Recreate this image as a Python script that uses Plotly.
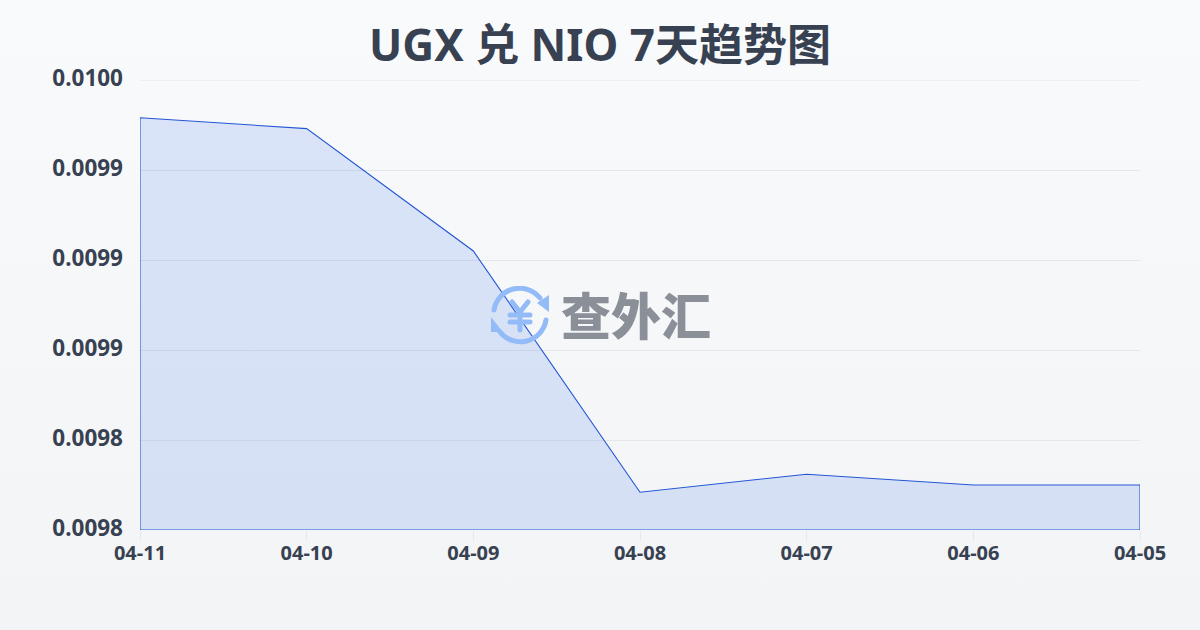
import base64
import plotly.graph_objects as go

title_text = "UGX 兑 NIO 7天趋势图"
dates = ["04-11", "04-10", "04-09", "04-08", "04-07", "04-06", "04-05"]
rates = [0.009979, 0.009973, 0.009905, 0.009771, 0.009781, 0.009775, 0.009775]
baseline = 0.00975
y_ticks = [0.00975, 0.0098, 0.00985, 0.0099, 0.00995, 0.0100]
y_labels = ["0.0098", "0.0098", "0.0099", "0.0099", "0.0099", "0.0100"]
watermark = "查外汇"

FONT = "'Noto Sans', 'Noto Sans CJK SC', sans-serif"
INK = "#374151"


def svg_uri(svg):
    return "data:image/svg+xml;base64," + base64.b64encode(svg.encode()).decode()


bg_svg = (
    '<svg xmlns="http://www.w3.org/2000/svg" width="1200" height="630" preserveAspectRatio="none">'
    '<defs><linearGradient id="g" x1="0" y1="0" x2="0" y2="1">'
    '<stop offset="0" stop-color="#f9fafc"/><stop offset="1" stop-color="#f3f4f6"/>'
    '</linearGradient></defs><rect width="1200" height="630" fill="url(#g)"/></svg>'
)
logo_svg = (
    '<svg xmlns="http://www.w3.org/2000/svg" width="60" height="60" viewBox="0 0 60 60">'
    '<g fill="none" stroke="#93bbf8" stroke-width="5" stroke-linecap="round">'
    '<path d="M4 24 A26 26 0 0 1 50 12"/><path d="M56 34 A26 26 0 0 1 10 46"/>'
    '<path d="M22 16 L30 26 L38 16 M20 29 H40 M20 36 H40 M30 27 V44"/></g>'
    '<path d="M59 9 V26 L47 17 Z M1 31 V46 H13 Z" fill="#93bbf8"/></svg>'
)

fig = go.Figure()
fig.add_trace(go.Scatter(
    x=dates + dates[::-1] + dates[:1],
    y=rates + [baseline] * len(dates) + rates[:1],
    mode="lines",
    fill="toself",
    fillcolor="rgba(37,99,235,0.14)",
    line=dict(color="#2456d6", width=1.1),
    hoverinfo="skip",
    showlegend=False,
))

fig.update_layout(
    width=1200,
    height=630,
    autosize=False,
    margin=dict(l=140, r=60, t=80, b=100),
    paper_bgcolor="#f6f7f9",
    plot_bgcolor="rgba(0,0,0,0)",
    font=dict(family=FONT, color=INK),
    title=dict(
        text=f"<b>{title_text}</b>",
        x=0.5,
        xanchor="center",
        y=0.927,
        yanchor="middle",
        font=dict(size=44, color=INK, family=FONT),
    ),
    xaxis=dict(
        type="category",
        categoryorder="array",
        categoryarray=dates,
        range=[0, len(dates) - 1],
        showgrid=False,
        zeroline=False,
        showline=False,
        ticks="outside",
        ticklen=10,
        tickcolor="#e5e7eb",
        tickwidth=1,
        ticklabelstandoff=-5,
        tickfont=dict(size=20, color=INK, family="'Noto Sans'", weight=700),
    ),
    yaxis=dict(
        range=[baseline, 0.0100],
        tickmode="array",
        tickvals=y_ticks,
        ticktext=y_labels,
        showgrid=True,
        gridcolor="#e5e7eb",
        gridwidth=1,
        zeroline=False,
        showline=False,
        ticks="",
        ticklabelstandoff=16,
        ticklabelshift=-2,
        tickfont=dict(size=22.5, color=INK, family="'Noto Sans'", weight=700),
    ),
    shapes=[
        dict(type="line", xref="paper", yref="y", x0=0, x1=1, y0=y_ticks[-1], y1=y_ticks[-1],
             line=dict(color="#e5e7eb", width=1), layer="below"),
    ],
    images=[
        dict(source=svg_uri(bg_svg), xref="paper", yref="paper", x=-140 / 1000, y=1 + 80 / 450,
             sizex=1.2, sizey=1.4, xanchor="left", yanchor="top", sizing="stretch", layer="below"),
        dict(source=svg_uri(logo_svg), xref="paper", yref="paper", x=350 / 1000, y=(530 - 286) / 450,
             sizex=60 / 1000, sizey=60 / 450, xanchor="left", yanchor="top", sizing="stretch", layer="above"),
    ],
    annotations=[
        dict(text=watermark, xref="paper", yref="paper", x=(636 - 140) / 1000,
             y=(530 - 313) / 450, xanchor="center", yanchor="middle", showarrow=False,
             font=dict(size=50, color="#8a8f98", family="'Noto Sans CJK SC'", weight=900)),
    ],
)

fig.write_html(
    "out.html",
    config={"displayModeBar": False},
    post_script="document.body.style.margin='0';document.body.style.overflow='hidden';",
)
